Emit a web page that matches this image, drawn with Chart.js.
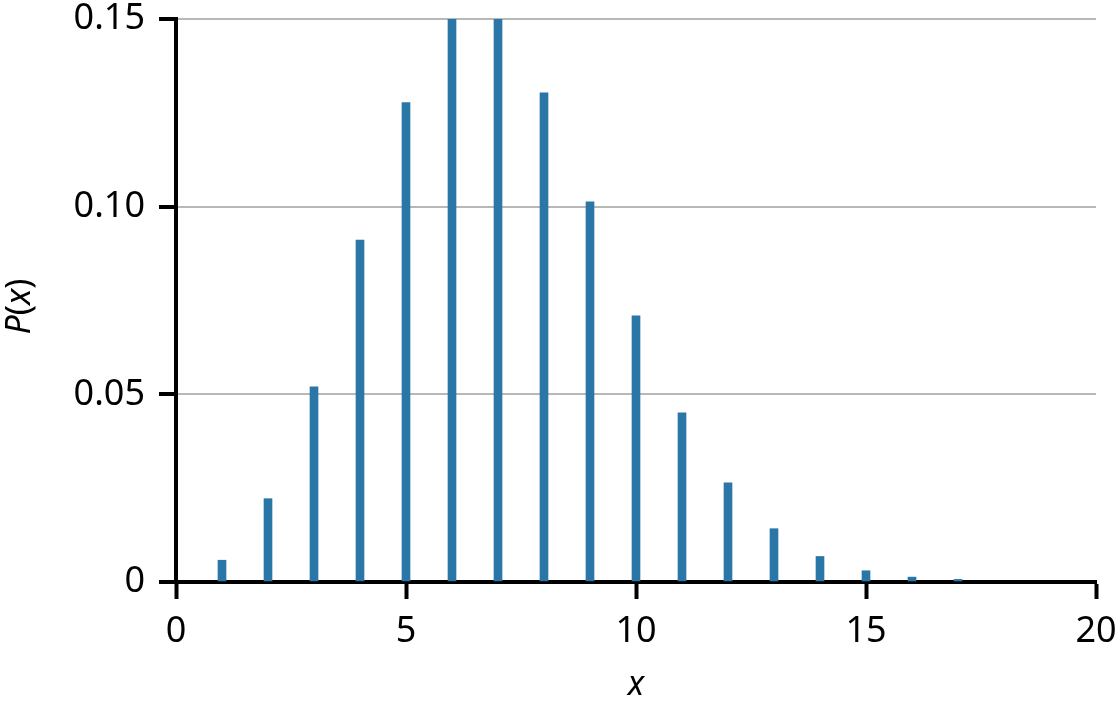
<!DOCTYPE html>
<html>
<head>
<meta charset="utf-8">
<script src="https://cdn.jsdelivr.net/npm/chart.js@4/dist/chart.umd.min.js"></script>
<style>
  html, body { margin: 0; padding: 0; background: #fff; }
  canvas { display: block; }
</style>
</head>
<body>
<canvas id="chart" width="1118" height="712"></canvas>
<script>
// values
const xValues = [1, 2, 3, 4, 5, 6, 7, 8, 9, 10, 11, 12, 13, 14, 15, 16, 17];
const probabilities = [0.0058, 0.0222, 0.052, 0.0911, 0.1277, 0.15, 0.15, 0.1303, 0.1013,
    0.0709, 0.0451, 0.0264, 0.0142, 0.0068, 0.003, 0.0013, 0.0007];
const xTicks = [0, 5, 10, 15, 20];
const yTicks = [0, 0.05, 0.10, 0.15];

const fontFamily = '"Noto Sans", "Open Sans", sans-serif';
const barColor = '#2976a7';

const points = xValues.map((x, i) => ({ x: x, y: probabilities[i] }));

// y title "P(x)" with italic letters and upright brackets
const yTitlePlugin = {
    id: 'yTitle',
    afterDraw(chart) {
        const c = chart.ctx;
        const area = chart.chartArea;
        const parts = [['P', 'italic'], ['(', 'normal'], ['x', 'italic'], [')', 'normal']];
        c.save();
        c.fillStyle = '#000';
        c.textBaseline = 'middle';
        c.textAlign = 'left';
        let total = 0;
        parts.forEach(p => {
            c.font = p[1] + ' 34px ' + fontFamily;
            total += c.measureText(p[0]).width;
        });
        c.translate(20, (area.top + area.bottom) / 2 + 6);
        c.rotate(-Math.PI / 2);
        let pos = -total / 2;
        parts.forEach(p => {
            c.font = p[1] + ' 34px ' + fontFamily;
            c.fillText(p[0], pos, 0);
            pos += c.measureText(p[0]).width;
        });
        c.restore();
    }
};

const ctx = document.getElementById('chart').getContext('2d');
new Chart(ctx, {
    type: 'bar',
    data: {
        datasets: [{
            label: 'P(x)',
            data: points,
            backgroundColor: barColor,
            borderWidth: 0,
            barThickness: 8
        }]
    },
    options: {
        responsive: false,
        animation: false,
        layout: { padding: { top: 19, right: 22, left: 0, bottom: 0 } },
        plugins: {
            legend: { display: false },
            tooltip: { enabled: false }
        },
        scales: {
            x: {
                type: 'linear',
                min: 0,
                max: 20,
                offset: false,
                afterBuildTicks: (scale) => { scale.ticks = xTicks.map(v => ({ value: v })); },
                afterFit: (scale) => {
                    scale.height = 712 - 582;
                    // let the layout padding alone decide the plot edges
                    scale.paddingLeft = 0;
                    scale.paddingRight = 0;
                },
                grid: {
                    offset: false,
                    drawOnChartArea: false,
                    drawTicks: true,
                    tickLength: 17,
                    tickWidth: 4,
                    tickColor: '#000'
                },
                border: { display: true, color: '#000', width: 4 },
                ticks: {
                    color: '#000',
                    padding: 15,
                    maxRotation: 0,
                    font: { family: fontFamily, size: 36, lineHeight: 1 },
                    callback: (v) => String(v)
                },
                title: {
                    display: true,
                    text: 'x',
                    color: '#000',
                    padding: { top: 0, bottom: 6 },
                    font: { family: fontFamily, size: 34, style: 'italic', lineHeight: 1.2 }
                }
            },
            y: {
                min: 0,
                max: 0.15,
                afterBuildTicks: (scale) => { scale.ticks = yTicks.map(v => ({ value: v })); },
                afterFit: (scale) => {
                    scale.width = 176;
                    scale.paddingTop = 0;
                    scale.paddingBottom = 0;
                },
                grid: {
                    drawOnChartArea: true,
                    drawTicks: true,
                    tickLength: 17,
                    tickWidth: 4,
                    tickColor: '#000',
                    lineWidth: 2,
                    color: (c) => (c.tick && c.tick.value === 0) ? 'rgba(0,0,0,0)' : '#b8b8b8'
                },
                border: { display: true, color: '#000', width: 4 },
                ticks: {
                    color: '#000',
                    padding: 14,
                    font: { family: fontFamily, size: 36, lineHeight: 1 },
                    callback: (v) => v === 0 ? '0' : v.toFixed(2)
                },
                title: { display: false }
            }
        }
    },
    plugins: [yTitlePlugin]
});
</script>
</body>
</html>
